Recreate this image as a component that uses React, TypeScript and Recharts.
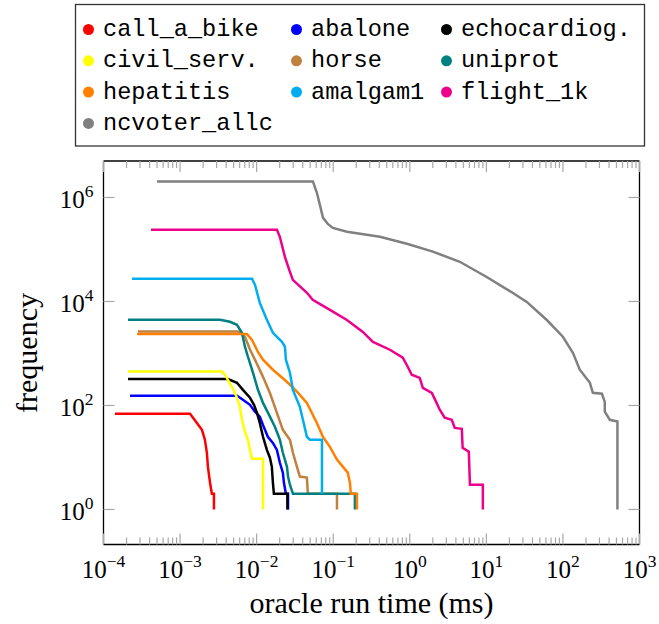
import { LineChart, Line, XAxis, YAxis } from "recharts";

// oracle run time (ms) / frequency
const callABikeT = [1.41e-4, 1.35e-3, 1.66e-3, 1.93e-3, 2.11e-3, 2.24e-3, 2.31e-3, 2.46e-3, 2.6e-3, 2.77e-3, 2.77e-3];
const callABikeF = [69, 69, 46, 34, 22, 12.3, 6.6, 3.3, 2, 2, 1];

const abaloneT = [2.22e-4, 5.53e-3, 6.62e-3, 8.18e-3, 9.5e-3, 0.011, 0.0121, 0.014, 0.0163, 0.0184, 0.0201, 0.022, 0.0227, 0.0241, 0.0257, 0.0257];
const abaloneF = [154, 154, 129, 103, 76, 61, 42, 25, 19, 14, 7.9, 5.1, 3.3, 2, 2, 1];

const echoT = [2.09e-4, 4.22e-3, 5.53e-3, 6.62e-3, 8.18e-3, 9.23e-3, 0.0101, 0.011, 0.0121, 0.0136, 0.0149, 0.0158, 0.0163, 0.0168, 0.0252, 0.0252];
const echoF = [322, 322, 273, 200, 141, 103, 72, 46, 25, 14, 9.9, 6.6, 3.3, 2, 2, 1];

const civilT = [2.09e-4, 3.52e-3, 3.85e-3, 4.76e-3, 5.53e-3, 6.05e-3, 6.43e-3, 7.03e-3, 7.7e-3, 8.18e-3, 8.7e-3, 0.0121, 0.0121];
const civilF = [451, 451, 390, 229, 141, 94, 53, 31, 22, 14, 9.4, 9.4, 1];

const horseT = [2.82e-4, 5.7e-3, 7.03e-3, 8.2e-3, 9.5e-3, 0.0121, 0.0149, 0.0184, 0.022, 0.0272, 0.0298, 0.0336, 0.0367, 0.0453, 0.0467, 0.112, 0.112];
const horseF = [2650, 2650, 2100, 1180, 760, 355, 174, 72, 34, 22, 12.3, 6.6, 4.3, 4.1, 2, 2, 1];

const uniprotT = [2.09e-4, 3.32e-3, 4.48e-3, 5.53e-3, 6.43e-3, 7.03e-3, 7.7e-3, 8.95e-3, 0.0104, 0.0121, 0.0149, 0.0173, 0.0201, 0.022, 0.0249, 0.0257, 0.0272, 0.0298, 0.192, 0.192];
const uniprotF = [4450, 4450, 4070, 3560, 2500, 1350, 865, 426, 200, 112, 61, 39, 22, 12.3, 6.6, 4.3, 3, 2, 2, 1];

const hepatitisT = [2.75e-4, 7.47e-3, 8.7e-3, 0.0104, 0.0121, 0.0163, 0.0248, 0.0336, 0.0453, 0.0612, 0.0733, 0.0905, 0.112, 0.134, 0.155, 0.165, 0.17, 0.204, 0.204];
const hepatitisF = [2360, 2360, 1830, 1070, 760, 487, 286, 184, 112, 46, 25, 16, 9.1, 6.6, 5.1, 3.3, 2, 2, 1];

const amalgamT = [2.36e-4, 8.7e-3, 9.5e-3, 0.011, 0.0136, 0.0163, 0.0214, 0.0234, 0.0241, 0.0272, 0.0297, 0.0367, 0.0402, 0.0453, 0.0496, 0.0713, 0.0713];
const amalgamF = [27300, 27300, 21000, 9400, 4470, 2500, 1680, 1350, 760, 426, 200, 94, 53, 25, 22, 22, 2];

const flightT = [4.17e-4, 0.0184, 0.0201, 0.0234, 0.0272, 0.0297, 0.0454, 0.054, 0.0906, 0.151, 0.244, 0.33, 0.55, 0.81, 0.944, 1.06, 1.35, 1.48, 1.94, 2.24, 2.46, 2.86, 3.53, 3.87, 4.78, 4.9, 5.9, 6.1, 9.0, 9.0];
const flightF = [2.4e5, 2.4e5, 1.75e5, 7.2e4, 3.7e4, 2.6e4, 1.47e4, 1.08e4, 6900, 4400, 2600, 1670, 1180, 830, 550, 390, 340, 218, 174, 112, 83, 58, 53, 37, 35.6, 15.4, 12.9, 3, 3, 1];

const ncvoterT = [5.0e-4, 0.0543, 0.0612, 0.067, 0.0734, 0.085, 0.099, 0.151, 0.407, 0.916, 2.0, 4.5, 10.1, 22, 33.7, 61.6, 99.8, 135, 166, 225, 246, 323, 352, 352, 410, 515, 515];
const ncvoterF = [2.04e6, 2.04e6, 1.23e6, 7.2e5, 4.1e5, 3.1e5, 2.6e5, 2.2e5, 1.75e5, 1.29e5, 9.1e4, 5.8e4, 2.96e4, 1.47e4, 9800, 4400, 2100, 1030, 487, 273, 175, 168, 117, 76, 53, 49, 1];

const xMajor = [1e-4, 1e-3, 1e-2, 1e-1, 1, 10, 100, 1000];
const xTicks = xMajor.flatMap((p, i) =>
  i === xMajor.length - 1 ? [p] : [1, 2, 3, 4, 5, 6, 7, 8, 9].map((m) => m * p)
);
const yTicks = [1, 100, 1e4, 1e6];

const zip = (t: number[], f: number[]) => t.map((v, i) => ({ t: v, f: f[i] }));

const series = [
  { name: "call_a_bike", color: "#ff0000", data: zip(callABikeT, callABikeF) },
  { name: "abalone", color: "#0000ff", data: zip(abaloneT, abaloneF) },
  { name: "echocardiog.", color: "#000000", data: zip(echoT, echoF) },
  { name: "civil_serv.", color: "#ffff00", data: zip(civilT, civilF) },
  { name: "horse", color: "#bf8040", data: zip(horseT, horseF) },
  { name: "uniprot", color: "#008080", data: zip(uniprotT, uniprotF) },
  { name: "hepatitis", color: "#ff8000", data: zip(hepatitisT, hepatitisF) },
  { name: "amalgam1", color: "#00aeef", data: zip(amalgamT, amalgamF) },
  { name: "flight_1k", color: "#ec008c", data: zip(flightT, flightF) },
  { name: "ncvoter_allc", color: "#808080", data: zip(ncvoterT, ncvoterF) },
];

const TICK = "#a8a8a8";
const SERIF = "'Liberation Serif', 'Times New Roman', serif";
const MONO = "'Liberation Mono', 'DejaVu Sans Mono', monospace";

const expOf = (v: number) => {
  const l = Math.log10(v);
  const e = Math.round(l);
  return { e, major: Math.abs(l - e) < 1e-6 };
};
const expText = (e: number) => (e < 0 ? "\u2212" + Math.abs(e) : String(e));

function BottomTick(p: any) {
  const { e, major } = expOf(p.payload.value);
  return (
    <g>
      <line x1={p.x} x2={p.x} y1={p.y} y2={p.y - (major ? 11 : 7)} stroke={TICK} strokeWidth={1.2} />
      {major && (
        <text x={p.x} y={p.y + 33} textAnchor="middle" fontFamily={SERIF} fontSize={25} fill="#000">
          10<tspan dy={-11} fontSize={17.5}>{expText(e)}</tspan>
        </text>
      )}
    </g>
  );
}

function TopTick(p: any) {
  const { major } = expOf(p.payload.value);
  return <line x1={p.x} x2={p.x} y1={p.y} y2={p.y + (major ? 11 : 7)} stroke={TICK} strokeWidth={1.2} />;
}

function LeftTick(p: any) {
  const { e } = expOf(p.payload.value);
  return (
    <g>
      <line x1={p.x} x2={p.x + 11} y1={p.y} y2={p.y} stroke={TICK} strokeWidth={1.2} />
      <text x={p.x - 10} y={p.y + 11} textAnchor="end" fontFamily={SERIF} fontSize={25} fill="#000">
        10<tspan dy={-11} fontSize={17.5}>{expText(e)}</tspan>
      </text>
    </g>
  );
}

function RightTick(p: any) {
  return <line x1={p.x} x2={p.x - 11} y1={p.y} y2={p.y} stroke={TICK} strokeWidth={1.2} />;
}

const frame = { stroke: "#000", strokeWidth: 1.3 };
const colX = [103, 311, 461];

export default function App() {
  return (
    <div style={{ position: "relative", width: 659, height: 624, background: "#fff" }}>
      <style>{"body{margin:0;overflow:hidden;background:#fff}"}</style>
      <LineChart width={659} height={624} margin={{ top: 151, right: 9.5, bottom: 49.5, left: 43.5 }}>
        <XAxis xAxisId="b" dataKey="t" type="number" scale="log" domain={[1e-4, 1e3]} allowDataOverflow
          ticks={xTicks} interval={0} height={30} tickSize={0} tickMargin={0} tickLine={false}
          axisLine={frame} tick={(p: any) => <BottomTick {...p} />} />
        <XAxis xAxisId="top" orientation="top" dataKey="t" type="number" scale="log" domain={[1e-4, 1e3]} allowDataOverflow
          ticks={xTicks} interval={0} height={10} tickSize={0} tickMargin={0} tickLine={false}
          axisLine={frame} tick={(p: any) => <TopTick {...p} />} />
        <YAxis yAxisId="l" type="number" scale="log" domain={[0.212, 5.03e6]} allowDataOverflow
          ticks={yTicks} interval={0} width={60} tickSize={0} tickMargin={0} tickLine={false}
          axisLine={frame} tick={(p: any) => <LeftTick {...p} />} />
        <YAxis yAxisId="right" orientation="right" type="number" scale="log" domain={[0.212, 5.03e6]} allowDataOverflow
          ticks={yTicks} interval={0} width={10} tickSize={0} tickMargin={0} tickLine={false}
          axisLine={frame} tick={(p: any) => <RightTick {...p} />} />
        {series.map((s) => (
          <Line key={s.name} xAxisId="b" yAxisId="l" data={s.data} dataKey="f" type="linear"
            stroke={s.color} strokeWidth={2.5} dot={false} isAnimationActive={false} />
        ))}
      </LineChart>
      <svg width={659} height={624} style={{ position: "absolute", left: 0, top: 0, pointerEvents: "none" }}>
        <text x={371.5} y={613} textAnchor="middle" fontFamily={SERIF} fontSize={30} fill="#000">
          oracle run time (ms)
        </text>
        <text transform="translate(37,353) rotate(-90)" textAnchor="middle" fontFamily={SERIF} fontSize={30} fill="#000">
          frequency
        </text>
        <rect x={75.5} y={4.5} width={569} height={141.5} fill="#fff" stroke="#333" strokeWidth={1.3} />
        {series.map((s, i) => {
          const col = i % 3;
          const row = Math.floor(i / 3);
          const base = 36 + row * 31.3;
          return (
            <g key={s.name}>
              <circle cx={colX[col] - 14.5} cy={base - 6.5} r={5.5} fill={s.color} />
              <text x={colX[col]} y={base} fontFamily={MONO} fontSize={23.6} fill="#000">
                {s.name}
              </text>
            </g>
          );
        })}
      </svg>
    </div>
  );
}
